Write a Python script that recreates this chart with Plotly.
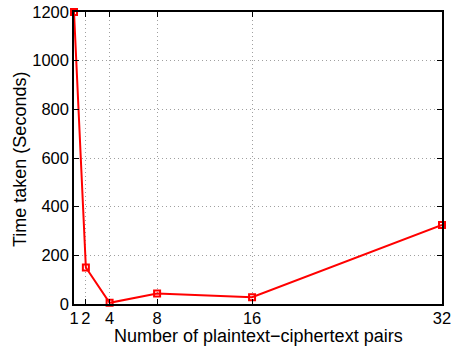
import plotly.graph_objects as go

pairs = [1, 2, 4, 8, 16, 32]
time_taken = [1200, 150, 5, 43, 28, 325]
x_ticks = [1, 2, 4, 8, 16, 32]
y_ticks = [0, 200, 400, 600, 800, 1000, 1200]

fig = go.Figure()
fig.add_trace(go.Scatter(
    x=pairs, y=time_taken, mode="lines+markers",
    line=dict(color="#ff0000", width=2),
    marker=dict(symbol="square-open", size=6, color="#ff0000", line=dict(width=2)),
    cliponaxis=False,
))

FONT = "Liberation Sans, Arial, sans-serif"
axis_common = dict(
    showline=True, linecolor="black", linewidth=1.5, mirror="ticks",
    ticks="inside", ticklen=5, tickcolor="black",
    showgrid=True, gridcolor="#a0a0a0", griddash="1px,3px", gridwidth=1,
    zeroline=False, automargin=False,
    tickfont=dict(family=FONT, size=16.5, color="black"),
)

fig.update_xaxes(range=[1, 32], tickvals=x_ticks, ticktext=[str(v) for v in x_ticks],
                 ticklabelstandoff=-2, **axis_common)
fig.update_yaxes(range=[0, 1200], tickvals=y_ticks, **axis_common)

fig.update_layout(
    width=452, height=347,
    margin=dict(l=74, r=10, t=12, b=43),
    plot_bgcolor="white", paper_bgcolor="white",
    showlegend=False,
    annotations=[
        dict(text="Number of plaintext\u2212ciphertext pairs", xref="paper", yref="paper",
             x=(258 - 74) / 368, y=-(336 - 304) / 292, xanchor="center", yanchor="middle",
             showarrow=False, font=dict(family=FONT, size=18, color="black")),
        dict(text="Time taken (Seconds)", xref="paper", yref="paper",
             x=-(74 - 20) / 368, y=(304 - 160) / 292, xanchor="center", yanchor="middle",
             textangle=-90, showarrow=False, font=dict(family=FONT, size=18, color="black")),
    ],
)

fig.write_html(
    "out.html",
    config={"displayModeBar": False},
    post_script="document.body.style.margin='0';document.body.style.overflow='hidden';",
)
